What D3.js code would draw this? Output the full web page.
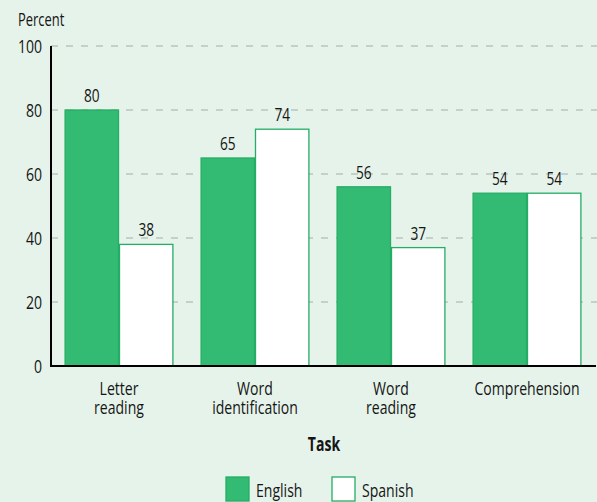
<!DOCTYPE html>
<html>
<head>
<meta charset="utf-8">
<script src="https://cdn.jsdelivr.net/npm/d3@7"></script>
<style>
  html, body { margin: 0; padding: 0; background: #e5f3ea; }
  svg { display: block; }
  text { font-family: "Open Sans", "Noto Sans", "DejaVu Sans", sans-serif; fill: #151515; }
</style>
</head>
<body>
<script>
// Share of children succeeding on each task, by test language
const taskKeys = ["Letter reading", "Word identification", "Word reading", "Comprehension"];
const taskLines = [["Letter", "reading"], ["Word", "identification"], ["Word", "reading"], ["Comprehension"]];
const series = ["English", "Spanish"];
const english = [80, 65, 56, 54];
const spanish = [38, 74, 37, 54];
const yTicks = [0, 20, 40, 60, 80, 100];

const W = 597, H = 502;
const plotLeft = 51, plotRight = 595, plotTop = 46, plotBottom = 366;
const fillColor = { English: "#33bb73", Spanish: "#ffffff" };
const strokeColor = "#25ad65";
const squeeze = 0.74;   // horizontal compression for a condensed look

const svg = d3.select("body").append("svg").attr("width", W).attr("height", H);
svg.append("rect").attr("width", W).attr("height", H).attr("fill", "#e5f3ea");

// places a condensed text label at (x, y)
function label(parent, x, y, str, opts = {}) {
  return parent.append("text")
    .attr("transform", `translate(${x},${y}) scale(${squeeze},1)`)
    .attr("text-anchor", opts.anchor || "start")
    .attr("font-size", opts.size || 19)
    .attr("font-weight", opts.weight || "normal")
    .attr("dy", opts.dy || null)
    .text(str);
}

const x0 = d3.scaleBand().domain(taskKeys).range([plotLeft, plotRight]).paddingInner(0.2).paddingOuter(0.1);
const x1 = d3.scaleBand().domain(series).range([0, x0.bandwidth()]);
const y = d3.scaleLinear().domain([0, 100]).range([plotBottom, plotTop]);

// dashed gridlines
svg.append("g").selectAll("line").data(yTicks.filter(d => d > 0)).join("line")
  .attr("x1", plotLeft).attr("x2", W)
  .attr("y1", d => y(d)).attr("y2", d => y(d))
  .attr("stroke", "#a8aeaa").attr("stroke-width", 1.2).attr("stroke-dasharray", "7,8");

// y tick labels
const gy = svg.append("g");
yTicks.forEach(t => label(gy, plotLeft - 9, y(t), t, { anchor: "end", dy: "0.36em" }));

label(svg, 18, 26, "Percent", { size: 17.5 });

// bars
const rows = taskKeys.map((k, i) => ({ key: k, values: [
  { s: "English", v: english[i] }, { s: "Spanish", v: spanish[i] } ] }));

const groups = svg.append("g").selectAll("g").data(rows).join("g")
  .attr("transform", d => `translate(${x0(d.key)},0)`);

groups.selectAll("rect").data(d => d.values).join("rect")
  .attr("x", d => x1(d.s) + 0.5)
  .attr("y", d => y(d.v))
  .attr("width", x1.bandwidth() - 1)
  .attr("height", d => y(0) - y(d.v))
  .attr("fill", d => fillColor[d.s])
  .attr("stroke", strokeColor).attr("stroke-width", 1.3);

groups.each(function(d) {
  const g = d3.select(this);
  d.values.forEach(v => label(g, x1(v.s) + x1.bandwidth() / 2, y(v.v) - 8, v.v, { anchor: "middle", size: 18.5 }));
});

// axis lines
svg.append("line").attr("x1", plotLeft).attr("x2", plotLeft).attr("y1", plotTop).attr("y2", plotBottom)
  .attr("stroke", "#000").attr("stroke-width", 2);
svg.append("line").attr("x1", plotLeft - 1).attr("x2", plotRight + 1).attr("y1", plotBottom).attr("y2", plotBottom)
  .attr("stroke", "#000").attr("stroke-width", 2);

// category labels, one text element per category with a line per tspan
const gc = svg.append("g");
taskKeys.forEach((k, i) => {
  const cx = x0(k) + x0.bandwidth() / 2;
  const t = label(gc, cx, 395, null, { anchor: "middle" });
  taskLines[i].forEach((line, j) => t.append("tspan").attr("x", 0).attr("y", j * 19).text(line));
});

label(svg, (plotLeft + plotRight) / 2 + 1, 451, "Task", { anchor: "middle", weight: "bold" });

// legend
const legend = svg.append("g").selectAll("g").data(series).join("g")
  .attr("transform", (d, i) => `translate(${226 + i * 106},477)`);
legend.append("rect").attr("width", 23).attr("height", 24)
  .attr("fill", d => fillColor[d]).attr("stroke", strokeColor).attr("stroke-width", 1.3);
legend.each(function(d) { label(d3.select(this), 30, 20, d); });
</script>
</body>
</html>
